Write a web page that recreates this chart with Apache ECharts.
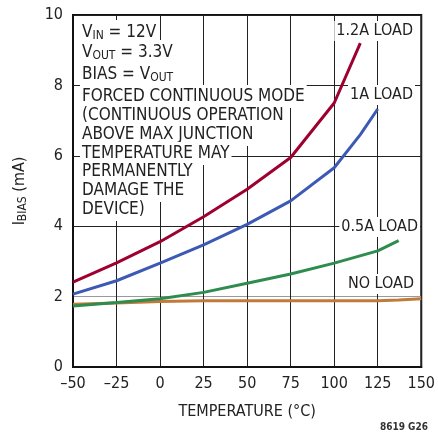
<!DOCTYPE html>
<html>
<head>
<meta charset="utf-8">
<script src="https://cdn.jsdelivr.net/npm/echarts@6/dist/echarts.min.js"></script>
<style>html,body{margin:0;padding:0;background:#fff}#c{width:438px;height:434px}</style>
</head>
<body>
<div id="c"></div>
<script>
var xTicks = [-50, -25, 0, 25, 50, 75, 100, 125, 150];
var yTicks = [0, 2, 4, 6, 8, 10];
var load12 = [[-50, 2.41], [-25, 2.96], [0, 3.56], [25, 4.27], [50, 5.05], [75, 5.95], [100, 7.5], [115, 9.2]];
var load1 = [[-50, 2.07], [-25, 2.45], [0, 2.95], [25, 3.47], [50, 4.05], [75, 4.72], [100, 5.66], [115, 6.6], [125, 7.33]];
var load05 = [[-50, 1.73], [-25, 1.83], [0, 1.94], [25, 2.12], [50, 2.38], [75, 2.64], [100, 2.95], [125, 3.3], [137, 3.59]];
var noLoad = [[-50, 1.78], [-25, 1.82], [0, 1.86], [25, 1.88], [50, 1.88], [75, 1.88], [100, 1.88], [125, 1.88], [137, 1.9], [150, 1.94]];

var FONT = "'Liberation Sans Narrow', 'DejaVu Sans Condensed', 'Liberation Sans', sans-serif";
var chart = echarts.init(document.getElementById('c'));

function line(y, text, x) {
  return {
    type: 'text', left: x, top: y, z: 50,
    style: {
      text: text, font: '17px ' + FONT, fill: '#222',
      backgroundColor: '#fff', padding: [3, 2, 3, 2],
      rich: {
        sub: { fontSize: 12, fontFamily: FONT, verticalAlign: 'bottom', padding: [7, 0, 0, 0], fill: '#222' },
        n: { fontSize: 17, fontFamily: FONT, fill: '#222' }
      }
    }
  };
}

var annot = [
  [20, '{n|V}{sub|IN}{n| = 12V}'],
  [40, '{n|V}{sub|OUT}{n| = 3.3V}'],
  [62, '{n|BIAS = V}{sub|OUT}'],
  [85, 'FORCED CONTINUOUS MODE'],
  [104, '(CONTINUOUS OPERATION'],
  [123, 'ABOVE MAX JUNCTION'],
  [142, 'TEMPERATURE MAY'],
  [160, 'PERMANENTLY'],
  [179, 'DAMAGE THE'],
  [198, 'DEVICE)']
];
var graphics = annot.map(function (a) { return line(a[0], a[1], 80); });

function label(text, right, top) {
  return {
    type: 'text', right: right, top: top, z: 50,
    style: { text: text, font: '16px ' + FONT, fill: '#222', backgroundColor: '#fff', padding: [2, 2, 2, 2] }
  };
}
graphics.push(label('1.2A LOAD', 23, 21));
graphics.push(label('1A LOAD', 23, 85));
graphics.push(label('0.5A LOAD', 18, 217));
graphics.push(label('NO LOAD', 22, 274));
graphics.push({
  type: 'text', right: 10, top: 422,
  style: { text: '8619 G26', font: 'bold 10px ' + FONT, fill: '#333' }
});

function series(data, color) {
  return { type: 'line', data: data, showSymbol: false, symbol: 'none', smooth: false,
    lineStyle: { color: color, width: 3 }, z: 5, silent: true };
}

chart.setOption({
  animation: false,
  grid: { left: 73, right: 13, top: 15, bottom: 67, show: true, borderColor: '#111', borderWidth: 2 },
  xAxis: {
    type: 'value', min: -50, max: 150, interval: 25,
    name: 'TEMPERATURE (°C)', nameLocation: 'middle', nameGap: 37,
    nameTextStyle: { fontFamily: FONT, fontSize: 16, color: '#222' },
    axisLine: { show: true, onZero: false, lineStyle: { color: '#111', width: 2 } },
    axisTick: { show: false },
    axisLabel: { fontFamily: FONT, fontSize: 16, color: '#222', margin: 9,
      formatter: function (v) { return String(v).replace('-', '\u2013'); } },
    splitLine: { show: true, lineStyle: { color: '#222', width: 1 } }
  },
  yAxis: {
    type: 'value', min: 0, max: 10, interval: 2,
    name: '{n|I}{sub|BIAS}{n| (mA)}', nameLocation: 'middle', nameGap: 44,
    nameTextStyle: { fontFamily: FONT, fontSize: 16, color: '#222',
      rich: { n: { fontFamily: FONT, fontSize: 16, color: '#222' },
              sub: { fontFamily: FONT, fontSize: 12, color: '#222', verticalAlign: 'bottom', padding: [6, 0, 0, 0] } } },
    axisLine: { show: true, onZero: false, lineStyle: { color: '#111', width: 2 } },
    axisTick: { show: false },
    axisLabel: { fontFamily: FONT, fontSize: 16, color: '#222', margin: 10 },
    splitLine: { show: true, lineStyle: { color: ['#222', '#999', '#222', '#222', '#222', '#222'], width: 1 } }
  },
  series: [
    series(noLoad, '#c27a3a'),
    series(load05, '#2f8c4f'),
    series(load1, '#3c5ab4'),
    series(load12, '#9e0030')
  ],
  graphic: graphics
});
</script>
</body>
</html>
